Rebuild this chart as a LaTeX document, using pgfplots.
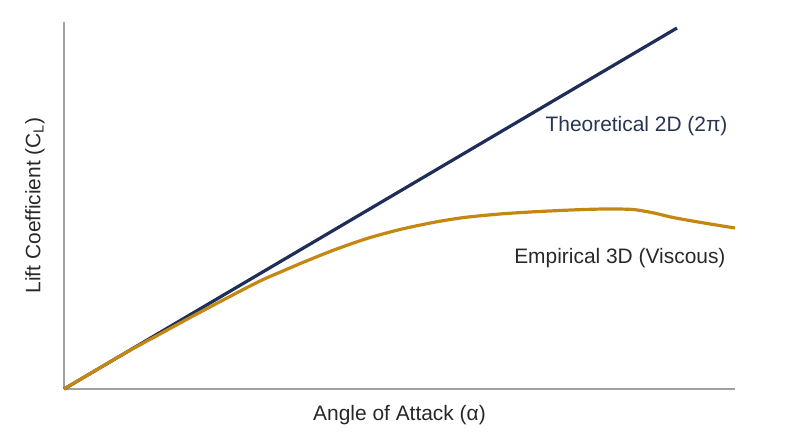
\documentclass[border=0pt]{standalone}
\usepackage{fontspec}
\setmainfont{Liberation Sans}
\usepackage{pgfplots}
\pgfplotsset{compat=1.18}
\definecolor{navy}{RGB}{30,46,88}
\definecolor{gold}{RGB}{196,136,18}
\definecolor{axgray}{RGB}{160,160,160}
\definecolor{txt}{RGB}{40,40,40}
\definecolor{txtnavy}{RGB}{40,52,80}
\begin{document}
\begin{tikzpicture}
\begin{axis}[
  at={(0,0)}, anchor=origin,
  scale only axis, width=671bp, height=367bp,
  xmin=0, xmax=671, ymin=0, ymax=367,
  axis x line=bottom, axis y line=left,
  axis line style={-, axgray, line width=1.1bp},
  xtick=\empty, ytick=\empty,
  clip=false,
]
\addplot[navy, line width=3.2bp] coordinates {(0,0) (613,361)};
\addplot[gold, line width=3.2bp, smooth, tension=0.45] coordinates {
(0,0) (30,17.7) (63,37) (96,55) (129,73) (163,91) (196,108) (220,118.5) (240,127) (270,139) (303,150.5) (336,159.5) (369,166.5) (400,171.5) (436,175) (466,177) (496,178.5) (520,179.5) (543,180) (569,179.5) (590,176) (609,171.5) (640,166) (671,161)};
\node[anchor=east, text=txtnavy, font=\fontsize{21}{25}\selectfont] at (axis cs:667,263) {Theoretical 2D (2π)};
\node[anchor=east, text=txt, font=\fontsize{21}{25}\selectfont] at (axis cs:665,131) {Empirical 3D (Viscous)};
\node[text=txt, font=\fontsize{21}{25}\selectfont] at (axis cs:335.5,-26) {Angle of Attack (α)};
\node[text=txt, rotate=90, font=\fontsize{21}{25}\selectfont] at (axis cs:-29,183.5) {Lift Coefficient (C\textsubscript{L})};
\end{axis}
\pgfresetboundingbox
\path[use as bounding box] (-64bp,-58bp) rectangle (736bp,389bp);
\end{tikzpicture}
\end{document}
